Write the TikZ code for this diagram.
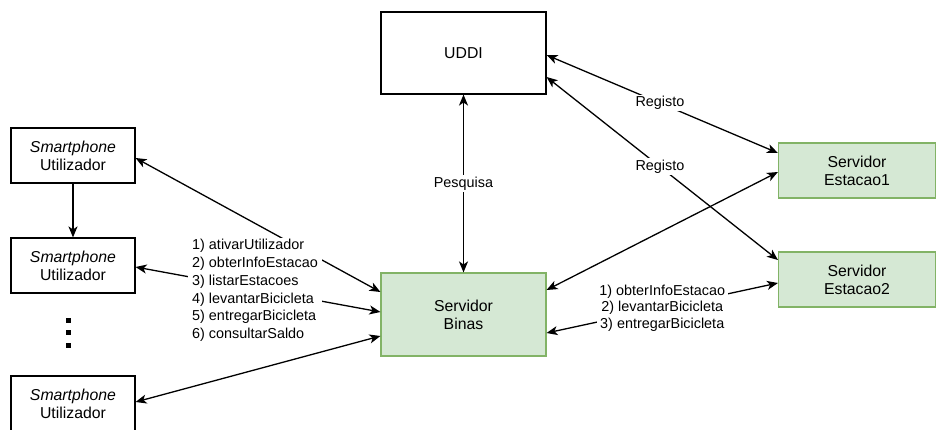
\documentclass[tikz,border=0pt]{standalone}
\usepackage{fontspec}
\setmainfont{Liberation Sans}
\usetikzlibrary{arrows.meta}
\definecolor{gfill}{HTML}{D5E8D4}
\definecolor{gline}{HTML}{82B366}
\begin{document}
\begin{tikzpicture}[x=1pt,y=-1pt,
  box/.style={draw=black, line width=1.1pt, inner sep=0pt, align=center,
    minimum width=124pt, minimum height=55pt,
    font=\fontsize{15.8}{18}\selectfont},
  gbox/.style={box, draw=gline, fill=gfill},
  tip/.tip={Stealth[length=11pt,width=9pt,inset=3pt]},
  conn/.style={line width=1.3pt, -tip},
  bi/.style={line width=1.3pt, tip-tip},
  lbl/.style={fill=white, inner sep=1.5pt, font=\fontsize{14.4}{17.7}\selectfont},
  dotsq/.style={fill=black, minimum size=5pt, inner sep=0pt}]
\useasboundingbox (0,0) rectangle (936,430);

% nodes
\node[box] (sm1) at (73,155.5) {\textit{Smartphone}\\Utilizador};
\node[box] (sm2) at (73,265.5) {\textit{Smartphone}\\Utilizador};
\node[box] (sm3) at (73,403.5) {\textit{Smartphone}\\Utilizador};
\node[box, minimum width=165pt, minimum height=82pt] (uddi) at (463.5,53) {UDDI};
\node[gbox, minimum width=165pt, minimum height=83pt] (binas) at (463.5,314.5) {Servidor\\Binas};
\node[gbox, minimum width=157pt] (est1) at (857,170.5) {Servidor\\Estacao1};
\node[gbox, minimum width=157pt] (est2) at (857,279.5) {Servidor\\Estacao2};

\node[dotsq] (d1) at (68,320.5) {};
\node[dotsq] (d2) at (68,332.5) {};
\node[dotsq] (d3) at (68,345.5) {};

% connectors
\draw[conn] (sm1.south) -- (sm2.north);
\draw[bi] (uddi.south) -- node[lbl] (lp) {Pesquisa} (binas.north);

\draw[bi] ([yshift=-2pt]uddi.east) -- node[lbl, pos=0.49] (lr1) {Registo} ([yshift=17.5pt]est1.west);
\draw[bi] ([yshift=-24pt]uddi.east) -- node[lbl, pos=0.49] (lr2) {Registo} ([yshift=19.5pt]est2.west);

\draw[bi] ([yshift=24.5pt]binas.east) -- ([yshift=-1.5pt]est1.west);
\draw[bi] ([yshift=-18.5pt]binas.east) -- node[lbl, align=center, inner xsep=2.5pt, font=\fontsize{14.4}{16.7}\selectfont] (lb)
  {1) obterInfoEstacao\\2) levantarBicicleta\\3) entregarBicicleta} ([yshift=-3.5pt]est2.west);

\draw[bi] ([yshift=-2.5pt]sm1.east) -- ([yshift=22.5pt]binas.west);
\draw[bi] ([yshift=1.5pt]sm3.east) -- ([yshift=-21.5pt]binas.west);
\draw[bi] ([yshift=-1.5pt]sm2.east) -- ([yshift=2.5pt]binas.west);

\node[lbl, align=left, anchor=west, inner xsep=4pt, inner ysep=2pt] (la) at (188,290.5)
  {1) ativarUtilizador\\2) obterInfoEstacao\\3) listarEstacoes\\4) levantarBicicleta\\5) entregarBicicleta\\6) consultarSaldo};
\end{tikzpicture}
\end{document}
